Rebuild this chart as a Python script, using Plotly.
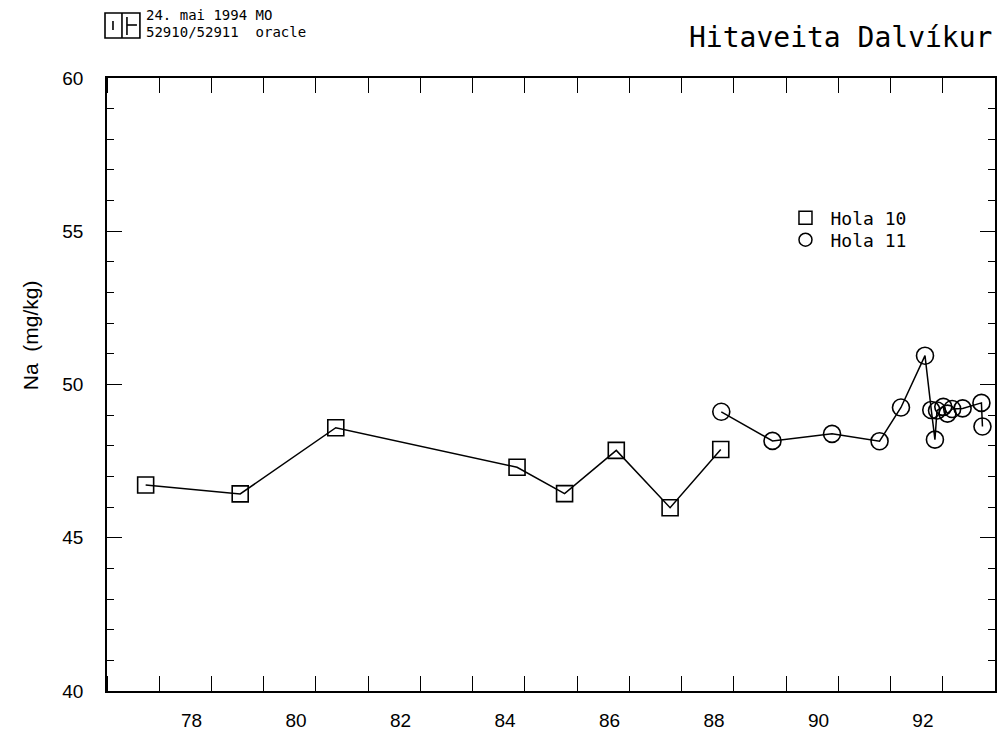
import plotly.graph_objects as go

# ---- data ----
hola10_year = [1977.74, 1979.55, 1981.38, 1984.85, 1985.76, 1986.75, 1987.78, 1988.75]
hola10_na = [46.72, 46.43, 48.59, 47.30, 46.44, 47.85, 45.98, 47.88]

hola11_year = [1988.76, 1989.74, 1990.88, 1991.79, 1992.20, 1992.66, 1992.78, 1992.85,
               1992.89, 1993.01, 1993.09, 1993.18, 1993.38, 1993.74, 1993.76]
hola11_na = [49.11, 48.16, 48.39, 48.15, 49.25, 50.94, 49.17, 48.20,
             49.15, 49.27, 49.05, 49.20, 49.22, 49.40, 48.63]

label_years = [78, 80, 82, 84, 86, 88, 90, 92]
series_names = ["Hola 10", "Hola 11"]
title_text = "Hitaveita Dalvíkur"
header_lines = ["24. mai 1994 MO", "52910/52911  oracle"]
y_title = "Na  (mg/kg)"

W, H = 999, 736
# plot-area edges in screenshot pixels
L, R, T, B = 107, 997, 78, 691


def px(xs):
    return (xs - L) / (R - L)


def py(ys):
    return (B - ys) / (B - T)


fig = go.Figure()
fig.add_trace(go.Scatter(x=hola10_year, y=hola10_na, mode="lines+markers", showlegend=False,
                         line=dict(color="black", width=1.5),
                         marker=dict(symbol="square-open", size=16, color="black",
                                     line=dict(width=1.6, color="black"))))
fig.add_trace(go.Scatter(x=hola11_year, y=hola11_na, mode="lines+markers", showlegend=False,
                         line=dict(color="black", width=1.5),
                         marker=dict(symbol="circle-open", size=17, color="black",
                                     line=dict(width=1.6, color="black"))))
# legend-only entries (markers only, like the reference), one legend per row
for name, sym, lg in zip(series_names, ["square-open", "circle-open"], ["legend", "legend2"]):
    fig.add_trace(go.Scatter(x=[None], y=[None], mode="markers", name=name, legend=lg,
                             marker=dict(symbol=sym, size=13, color="black",
                                         line=dict(width=1.5, color="black"))))

mono = "DejaVu Sans Mono"
sans = "Liberation Sans"
leg_common = dict(x=px(782), xanchor="left", yanchor="middle",
                  font=dict(family=mono, size=18, color="black"),
                  bgcolor="rgba(0,0,0,0)", itemwidth=40, borderwidth=0)

fig.update_layout(
    width=W, height=H,
    margin=dict(l=L, r=W - R, t=T, b=H - B),
    paper_bgcolor="white", plot_bgcolor="white",
    showlegend=True,
    legend=dict(y=py(218), **leg_common),
    legend2=dict(y=py(240), **leg_common),
    xaxis=dict(range=[1977, 1994], showgrid=False, zeroline=False,
               showline=True, linecolor="black", linewidth=1.5, mirror="ticks",
               tickmode="array", tickvals=[1900 + v + 0.62 for v in label_years],
               ticktext=[str(v) for v in label_years],
               ticks="", ticklabelstandoff=11,
               tickfont=dict(family=sans, size=19, color="black"),
               minor=dict(tick0=1977, dtick=1, ticks="inside", ticklen=15,
                          tickcolor="black", tickwidth=1.3, showgrid=False)),
    yaxis=dict(range=[40, 60], showgrid=False, zeroline=False,
               showline=True, linecolor="black", linewidth=1.5, mirror="ticks",
               tickmode="linear", tick0=40, dtick=5,
               ticks="inside", ticklen=15, tickcolor="black", tickwidth=1.3,
               ticklabelstandoff=18,
               tickfont=dict(family=sans, size=19, color="black"),
               minor=dict(dtick=1, ticks="inside", ticklen=7,
                          tickcolor="black", tickwidth=1.3, showgrid=False)),
)

# y-axis title
fig.add_annotation(text=y_title, xref="paper", yref="paper", x=px(30), y=py(335),
                   textangle=-90, showarrow=False, xanchor="center", yanchor="middle",
                   font=dict(family=sans, size=21, color="black"))
# main title (top right)
fig.add_annotation(text=title_text, xref="paper", yref="paper", x=px(996), y=py(37),
                   showarrow=False, xanchor="right", yanchor="middle",
                   font=dict(family=mono, size=28, color="black"))
# header lines
for i, line in enumerate(header_lines):
    fig.add_annotation(text=line, xref="paper", yref="paper", x=px(144), y=py(15 + i * 17),
                       showarrow=False, xanchor="left", yanchor="middle",
                       font=dict(family=mono, size=14, color="black"))

# logo box
lw = dict(color="black", width=1.6)
fig.add_shape(type="rect", xref="paper", yref="paper", x0=px(105), x1=px(140),
              y0=py(38), y1=py(13), line=lw)
fig.add_shape(type="line", xref="paper", yref="paper", x0=px(122), x1=px(122),
              y0=py(38), y1=py(13), line=lw)
fig.add_shape(type="line", xref="paper", yref="paper", x0=px(113), x1=px(113),
              y0=py(30), y1=py(21), line=lw)
fig.add_shape(type="line", xref="paper", yref="paper", x0=px(127), x1=px(127),
              y0=py(35), y1=py(17), line=lw)
fig.add_shape(type="line", xref="paper", yref="paper", x0=px(127), x1=px(137),
              y0=py(25), y1=py(25), line=lw)

fig.write_html("out.html",
               config={"displayModeBar": False},
               post_script="document.body.style.margin='0';"
                           "document.body.style.overflow='hidden';")
